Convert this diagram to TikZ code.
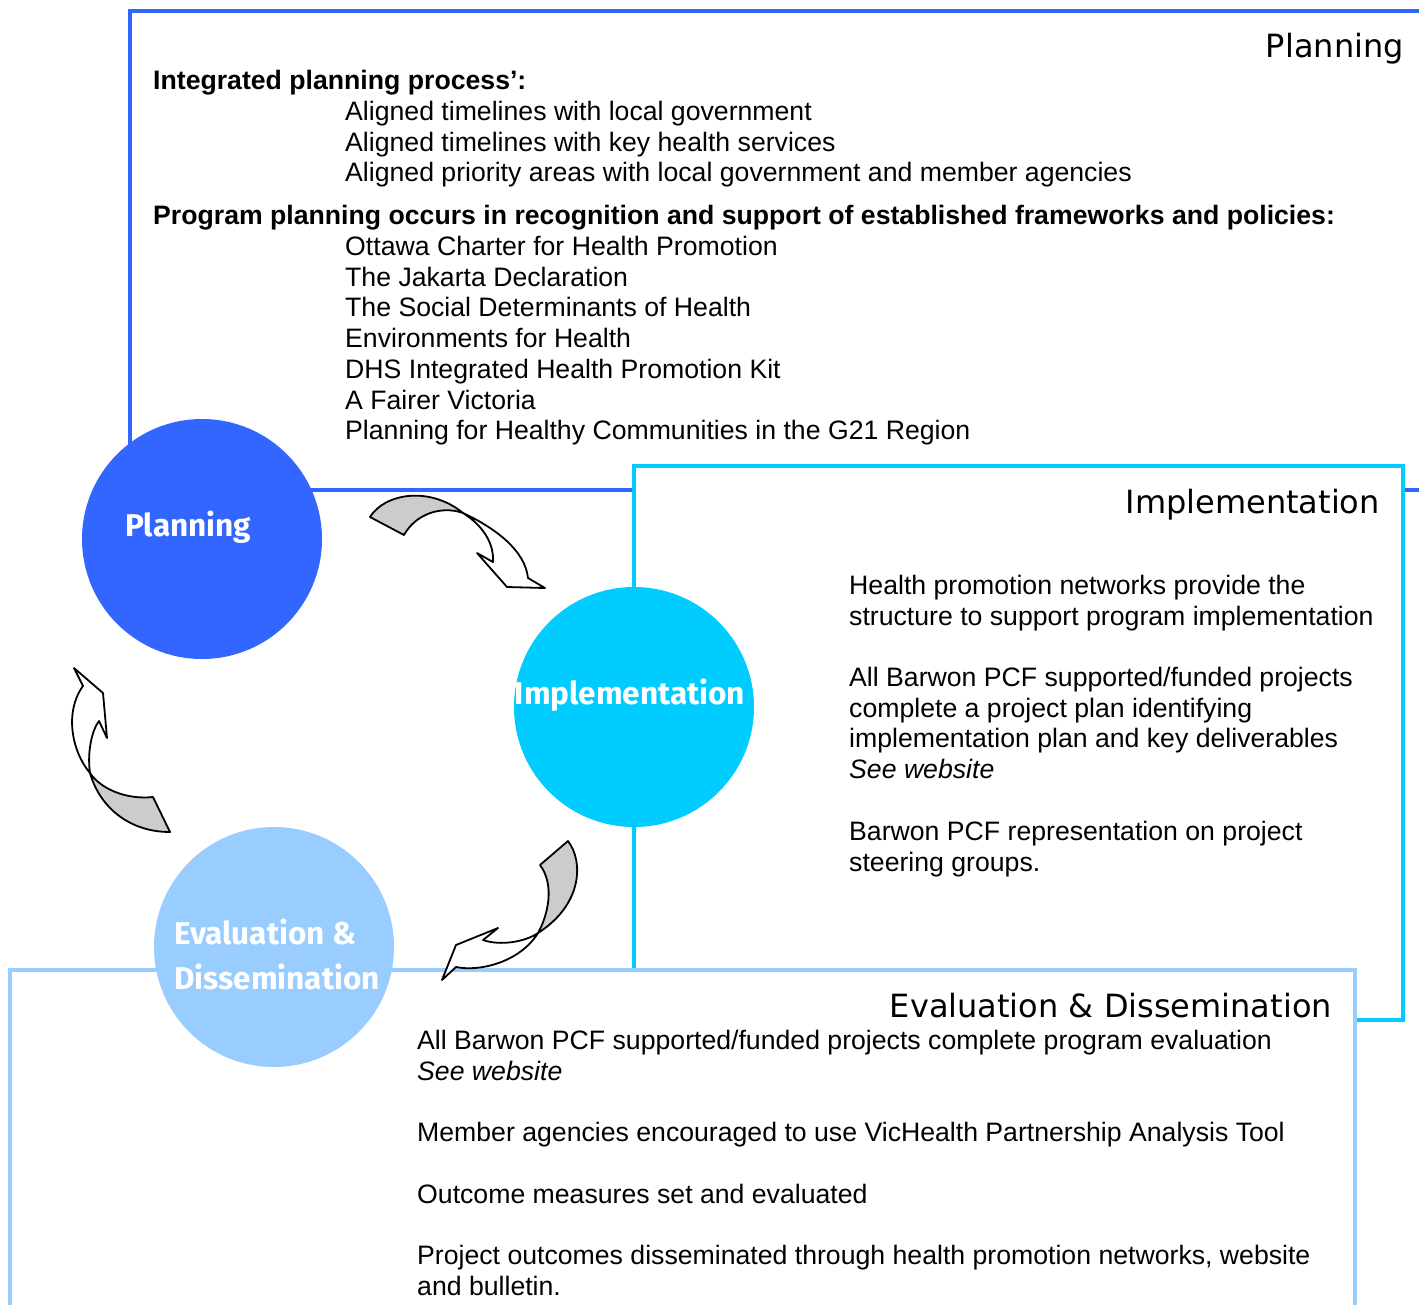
\documentclass[tikz,border=0pt]{standalone}
\usepackage{fontspec}
\setmainfont{Liberation Sans}
\newfontfamily\titlefont{DejaVu Sans}
\newfontfamily\stagefont{Fira Sans}
\usepackage{xcolor}
\usepackage{tikz}
\usetikzlibrary{positioning}
\definecolor{planblue}{HTML}{3366FF}
\definecolor{implblue}{HTML}{00CCFF}
\definecolor{evalblue}{HTML}{99CCFF}
\definecolor{backface}{HTML}{CCCCCC}
\tikzset{>=latex}
\tikzstyle{panel} = [line width = 4pt, fill = white]
\tikzstyle{stage} = [circle, draw = none, minimum size = 240pt, inner sep = 0]
\tikzstyle{stagetext} = [inner sep = 0, text = white, font = \stagefont\bfseries\fontsize{31.5}{45}\selectfont]
\tikzstyle{title} = [anchor = base east, inner sep = 0, font = \titlefont\fontsize{32}{36}\selectfont]
\tikzstyle{body} = [anchor = north west, inner sep = 0, align = left, font = \fontsize{26.65}{30.7}\selectfont]
\tikzstyle{ribbon} = [draw = black, line width = 1.8pt, line join = round]

\begin{document}
\begin{tikzpicture}[x = 1pt, y = -1pt]
\useasboundingbox (0, 0) rectangle (1419, 1304);
\draw [panel, draw = planblue] (130, 11) rectangle (1450, 490);
\draw [panel, draw = implblue, line width = 4.5pt] (634, 466) rectangle (1403, 1020);
\draw [panel, draw = evalblue] (10, 970) rectangle (1355, 1340);

\node [title] (Pt) at (1404, 57) {Planning};
\node [body] (intH) at (153, 70) {\bf Integrated planning process’:};
\node [body] (intL) at (345, 101) {Aligned timelines with local government\\
  Aligned timelines with key health services\\
  Aligned priority areas with local government and member agencies};
\node [body] (progH) at (153, 205) {\bf Program planning occurs in recognition and support of established frameworks and policies:};
\node [body] (progL) at (345, 236) {Ottawa Charter for Health Promotion\\
  The Jakarta Declaration\\
  The Social Determinants of Health\\
  Environments for Health\\
  DHS Integrated Health Promotion Kit\\
  A Fairer Victoria\\
  Planning for Healthy Communities in the G21 Region};

\node [title] (It) at (1380, 513) {Implementation};
\node [body] (net) at (849, 575) {Health promotion networks provide the\\
  structure to support program implementation};
\node [body] (plan) at (849, 667) {All Barwon PCF supported/funded projects\\
  complete a project plan identifying\\
  implementation plan and key deliverables\\
  {\it See website}};
\node [body] (steer) at (849, 821) {Barwon PCF representation on project\\
  steering groups.};

\node [title] (Et) at (1332, 1017) {Evaluation \& Dissemination};
\node [body] (eval) at (417, 1030) {All Barwon PCF supported/funded projects complete program evaluation\\
  {\it See website}};
\node [body] (tool) at (417, 1122) {Member agencies encouraged to use VicHealth Partnership Analysis Tool};
\node [body] (meas) at (417, 1184) {Outcome measures set and evaluated};
\node [body] (diss) at (417, 1245) {Project outcomes disseminated through health promotion networks, website\\
  and bulletin.};

\node [stage, fill = planblue] (P) at (202, 539) {};
\node [stage, fill = implblue] (I) at (634, 707) {};
\node [stage, fill = evalblue] (E) at (274, 947) {};
\node [stagetext, anchor = base west] (Pl) at (125, 536) {Planning};
\node [stagetext, anchor = base] (Il) at (630, 704) {Implementation};
\node [stagetext, anchor = base west] (El) at (174, 944) {Evaluation \&};
\node [stagetext, anchor = base west] (Dl) at (174, 989) {Dissemination};

\filldraw [ribbon, fill = backface] (370, 517) .. controls (385, 493) and (430, 486) .. (463, 513)
  .. controls (440, 505) and (415, 515) .. (404, 535) -- cycle;
\filldraw [ribbon, fill = white] (463, 513) .. controls (495, 528) and (525, 550) .. (528, 578)
  -- (545, 588) -- (507, 587) -- (477, 553) -- (493, 562)
  .. controls (494, 545) and (485, 527) .. (463, 513) -- cycle;

\filldraw [ribbon, fill = backface] (540, 865) -- (568, 841) .. controls (584, 862) and (582, 905) .. (538, 933)
  .. controls (548, 915) and (555, 885) .. (540, 865) -- cycle;
\filldraw [ribbon, fill = white] (538, 933) .. controls (525, 942) and (500, 946) .. (483, 940)
  -- (498, 928) -- (456, 945) -- (442, 980) -- (456, 967)
  .. controls (480, 972) and (520, 962) .. (538, 933) -- cycle;

\filldraw [ribbon, fill = backface] (90, 773) .. controls (100, 788) and (125, 800) .. (153, 797)
  -- (170, 832) .. controls (130, 832) and (100, 808) .. (90, 773) -- cycle;
\filldraw [ribbon, fill = white] (90, 773) .. controls (72, 752) and (64, 712) .. (83, 686)
  -- (74, 668) -- (103, 693) -- (107, 738) -- (99, 721)
  .. controls (92, 730) and (87, 752) .. (90, 773) -- cycle;
\end{tikzpicture}
\end{document}
